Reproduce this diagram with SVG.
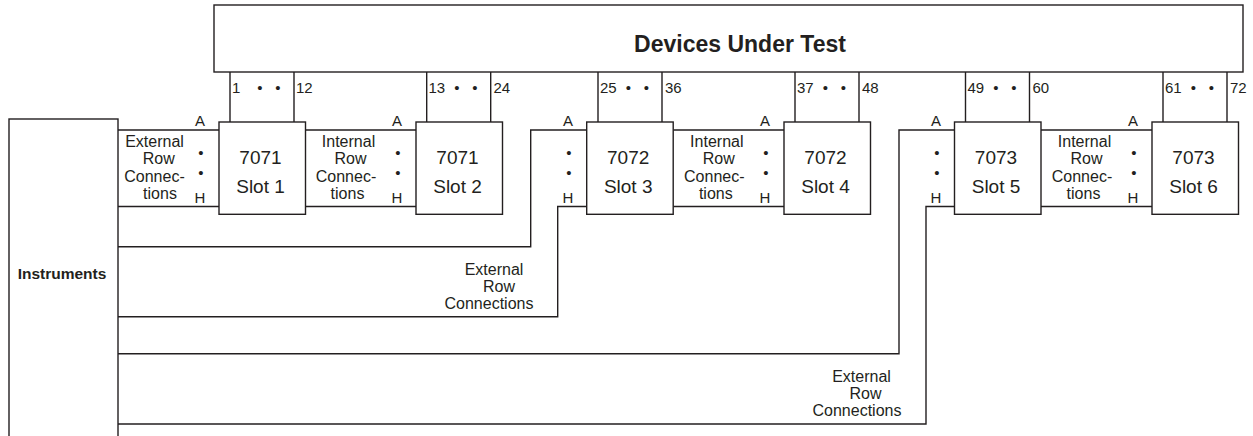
<svg xmlns="http://www.w3.org/2000/svg" width="1253" height="436" viewBox="0 0 1253 436">
<style>
.b{fill:#fff;stroke:#231f20;stroke-width:1.4}
.w{fill:none;stroke:#231f20;stroke-width:1.4}
text{font-family:"Liberation Sans",Arial,sans-serif;fill:#231f20}
.t{font-size:16px;text-anchor:middle}
.s{font-size:19px;text-anchor:middle}
.n{font-size:15px}
.d{font-size:15px;text-anchor:middle}
.ah{font-size:15px;text-anchor:middle}
</style>
<rect width="1253" height="436" fill="#fff"/>
<g id="connectors">
<path class="w" d="M230,72V122M294,72V122M426.7,72V122M490.7,72V122M598,72V122M662,72V122M795,72V122M859,72V122M965.5,72V122M1029.5,72V122M1163,72V122M1227,72V122"/>
<path class="w" d="M118,130H219M118,206.5H219"/>
<path class="w" d="M305,130H416M305,206.5H416"/>
<path class="w" d="M586.7,130H530.7V246.7H118M586.7,206.5H557.7V316.7H118"/>
<path class="w" d="M673.3,130H784M673.3,206.5H784"/>
<path class="w" d="M954.5,130H899V353.7H118M954.5,206.5H926V424H118"/>
<path class="w" d="M1041,130H1152M1041,206.5H1152"/>
</g>
<g id="dut">
<rect class="b" x="214" y="5" width="1029" height="67"/>
<text x="740" y="52" font-size="23" font-weight="bold" text-anchor="middle">Devices Under Test</text>
<text class="n" x="232" y="93">1</text><text class="d" x="260" y="93">•</text><text class="d" x="278" y="93">•</text><text class="n" x="296" y="93">12</text>
<text class="n" x="428.5" y="93">13</text><text class="d" x="457" y="93">•</text><text class="d" x="475" y="93">•</text><text class="n" x="493.5" y="93">24</text>
<text class="n" x="600" y="93">25</text><text class="d" x="628.5" y="93">•</text><text class="d" x="646.5" y="93">•</text><text class="n" x="665" y="93">36</text>
<text class="n" x="797" y="93">37</text><text class="d" x="825.5" y="93">•</text><text class="d" x="843.5" y="93">•</text><text class="n" x="862" y="93">48</text>
<text class="n" x="967.5" y="93">49</text><text class="d" x="996" y="93">•</text><text class="d" x="1014" y="93">•</text><text class="n" x="1032.5" y="93">60</text>
<text class="n" x="1165" y="93">61</text><text class="d" x="1193.5" y="93">•</text><text class="d" x="1211.5" y="93">•</text><text class="n" x="1230" y="93">72</text>
</g>
<g id="instruments">
<rect class="b" x="9" y="119" width="109" height="340"/>
<text x="62" y="279" font-size="15.5" font-weight="bold" text-anchor="middle">Instruments</text>
</g>
<g id="slot1">
<rect class="b" x="219" y="122" width="86.5" height="92.3"/>
<text class="s" x="260.5" y="163.5">7071</text><text class="s" x="260.5" y="193">Slot 1</text>
</g>
<g id="slot2">
<rect class="b" x="416" y="122" width="86.5" height="92.3"/>
<text class="s" x="457.5" y="163.5">7071</text><text class="s" x="457.5" y="193">Slot 2</text>
</g>
<g id="slot3">
<rect class="b" x="586.7" y="122" width="86.5" height="92.3"/>
<text class="s" x="628.2" y="163.5">7072</text><text class="s" x="628.2" y="193">Slot 3</text>
</g>
<g id="slot4">
<rect class="b" x="784" y="122" width="86.5" height="92.3"/>
<text class="s" x="825.5" y="163.5">7072</text><text class="s" x="825.5" y="193">Slot 4</text>
</g>
<g id="slot5">
<rect class="b" x="954.5" y="122" width="86.5" height="92.3"/>
<text class="s" x="996" y="163.5">7073</text><text class="s" x="996" y="193">Slot 5</text>
</g>
<g id="slot6">
<rect class="b" x="1152" y="122" width="86.5" height="92.3"/>
<text class="s" x="1193.5" y="163.5">7073</text><text class="s" x="1193.5" y="193">Slot 6</text>
</g>
<g id="row-labels">
<text class="ah" x="200" y="125.7">A</text><text class="d" x="201" y="158">•</text><text class="d" x="201" y="178">•</text><text class="ah" x="200" y="202.7">H</text>
<text class="ah" x="397" y="125.7">A</text><text class="d" x="398" y="158">•</text><text class="d" x="398" y="178">•</text><text class="ah" x="397" y="202.7">H</text>
<text class="ah" x="568" y="125.7">A</text><text class="d" x="569" y="158">•</text><text class="d" x="569" y="178">•</text><text class="ah" x="568" y="202.7">H</text>
<text class="ah" x="765" y="125.7">A</text><text class="d" x="766" y="158">•</text><text class="d" x="766" y="178">•</text><text class="ah" x="765" y="202.7">H</text>
<text class="ah" x="936" y="125.7">A</text><text class="d" x="937" y="158">•</text><text class="d" x="937" y="178">•</text><text class="ah" x="936" y="202.7">H</text>
<text class="ah" x="1133" y="125.7">A</text><text class="d" x="1134" y="158">•</text><text class="d" x="1134" y="178">•</text><text class="ah" x="1133" y="202.7">H</text>
<text class="t" x="154.5" y="147">External</text><text class="t" x="158.7" y="164.3">Row</text><text class="t" x="154.5" y="181.7">Connec-</text><text class="t" x="160" y="199">tions</text>
<text class="t" x="348.5" y="147">Internal</text><text class="t" x="350.5" y="164.3">Row</text><text class="t" x="346" y="181.7">Connec-</text><text class="t" x="347.5" y="199">tions</text>
<text class="t" x="716.8" y="147">Internal</text><text class="t" x="718.8" y="164.3">Row</text><text class="t" x="714.3" y="181.7">Connec-</text><text class="t" x="715.8" y="199">tions</text>
<text class="t" x="1084.5" y="147">Internal</text><text class="t" x="1086.5" y="164.3">Row</text><text class="t" x="1082" y="181.7">Connec-</text><text class="t" x="1083.5" y="199">tions</text>
<text class="t" x="494" y="275">External</text><text class="t" x="499" y="292">Row</text><text class="t" x="489" y="309">Connections</text>
<text class="t" x="861.5" y="382">External</text><text class="t" x="865.5" y="399">Row</text><text class="t" x="857" y="416">Connections</text>
</g>
</svg>
